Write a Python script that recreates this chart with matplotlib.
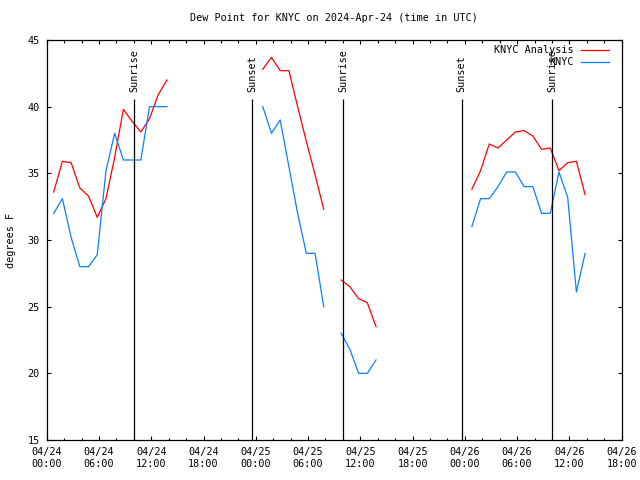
import matplotlib
matplotlib.use('Agg')
import matplotlib.pyplot as plt
import numpy as np

nan = np.nan

# hours after 2024-04-24 00:00 UTC (obs near :48)
hours = np.arange(62) + 0.8

analysis = [33.6, 35.9, 35.8, 33.9, 33.3, 31.7, 33.1, 36.2, 39.8, 38.9, 38.1, 39.1, 40.9, 42.0,
            nan, nan, nan, nan, nan, nan, nan, nan, nan, nan,
            42.8, 43.7, 42.7, 42.7, 40.0, 37.4, 34.9, 32.3,
            nan,
            27.0, 26.5, 25.6, 25.3, 23.5,
            nan, nan, nan, nan, nan, nan, nan, nan, nan, nan,
            33.8, 35.2, 37.2, 36.9, 37.5, 38.1, 38.2, 37.8, 36.8, 36.9, 35.2, 35.8, 35.9, 33.4]

knyc = [32.0, 33.1, 30.2, 28.0, 28.0, 28.9, 35.2, 38.0, 36.0, 36.0, 36.0, 40.0, 40.0, 40.0,
        nan, nan, nan, nan, nan, nan, nan, nan, nan, nan,
        40.0, 38.0, 39.0, 35.5, 32.0, 29.0, 29.0, 25.0,
        nan,
        23.0, 21.8, 20.0, 20.0, 21.0,
        nan, nan, nan, nan, nan, nan, nan, nan, nan, nan,
        31.0, 33.1, 33.1, 34.0, 35.1, 35.1, 34.0, 34.0, 32.0, 32.0, 35.1, 33.2, 26.1, 29.0]

sun_hours = [10.06, 23.6, 34.05, 47.65, 58.05]
sun_labels = ['Sunrise', 'Sunset', 'Sunrise', 'Sunset', 'Sunrise']

tick_hours = list(range(0, 67, 6))
tick_labels = ['04/24\n00:00', '04/24\n06:00', '04/24\n12:00', '04/24\n18:00',
               '04/25\n00:00', '04/25\n06:00', '04/25\n12:00', '04/25\n18:00',
               '04/26\n00:00', '04/26\n06:00', '04/26\n12:00', '04/26\n18:00']

plt.rcParams['font.family'] = 'DejaVu Sans Mono'
plt.rcParams['font.size'] = 7.3

fig = plt.figure(figsize=(6.4, 4.8), dpi=100)
ax = fig.add_axes([0.073, 0.0833, 0.8984, 0.8334])

red = '#ff0000'
blue = '#0a80ff'
ax.plot(hours, analysis, color=red, lw=0.9)
ax.plot(hours, knyc, color=blue, lw=0.9)

for h, lab in zip(sun_hours, sun_labels):
    ax.vlines(h, 15, 40.57, color='black', lw=0.9)
    ax.text(h, 41.1, lab, rotation=90, ha='center', va='bottom')

# legend, gnuplot style (text right aligned, sample on the right)
ax.text(0.917, 0.974, 'KNYC Analysis', transform=ax.transAxes, ha='right', va='center')
ax.plot([0.929, 0.978], [0.974, 0.974], transform=ax.transAxes, color=red, lw=0.9)
ax.text(0.917, 0.945, 'KNYC', transform=ax.transAxes, ha='right', va='center')
ax.plot([0.929, 0.978], [0.945, 0.945], transform=ax.transAxes, color=blue, lw=0.9)

ax.set_xlim(0, 66)
ax.set_ylim(15, 45)
ax.set_xticks(tick_hours)
ax.set_xticklabels(tick_labels, linespacing=1.3)
ax.set_xticks(range(0, 67, 2), minor=True)
ax.set_yticks(range(15, 46, 5))
ax.tick_params(which='both', direction='in', top=True, right=True, width=0.8)
ax.tick_params(which='major', length=3.2, pad=5)
ax.tick_params(which='minor', length=1.8)
for s in ax.spines.values():
    s.set_linewidth(0.9)

ax.set_ylabel('degrees F', labelpad=8)
ax.set_title('Dew Point for KNYC on 2024-Apr-24 (time in UTC)', fontsize=7.3, pad=14)

fig.savefig('out.png', dpi=100)
